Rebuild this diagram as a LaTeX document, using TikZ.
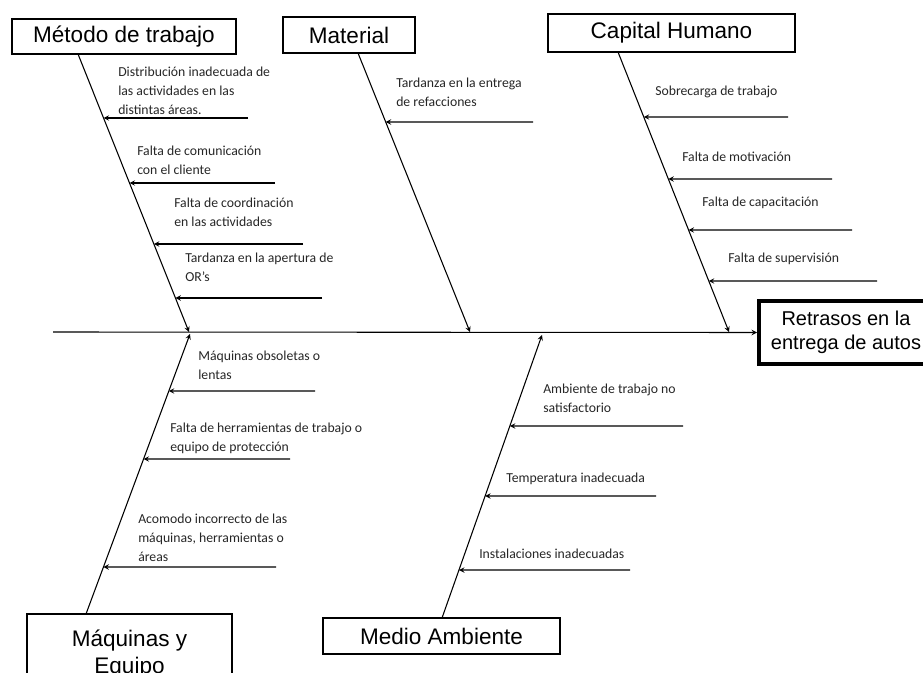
\documentclass[tikz,border=0pt]{standalone}
\usepackage{fontspec}
\setmainfont{Liberation Sans}
\newfontfamily\causefont{Carlito}
\usetikzlibrary{arrows,positioning,calc}

\begin{document}
\begin{tikzpicture}[x=0.75pt, y=-0.75pt,
    cat/.style={rectangle, draw, line width=0.8pt, text centered, align=center, inner sep=0pt, font=\fontsize{16.9}{20}\selectfont},
    cause/.style={anchor=west, inner sep=0pt, align=left, text=black!85, font=\causefont\fontsize{10.3}{14.4}\selectfont},
    arrow/.style={->, line width=0.8pt, >=stealth}]

    \clip (0,0) rectangle (923,673);

    % Categories
    \node[cat, minimum width=168pt, minimum height=26.25pt] (metodo) at (124,36.5) {Método de trabajo};
    \node[cat, minimum width=99pt, minimum height=27pt] (material) at (349,35) {Material};
    \node[cat, minimum width=185.25pt, minimum height=28.5pt] (capital) at (671.5,33) {Capital Humano};
    \node[cat, minimum width=153.75pt, minimum height=60pt] (maquinas) at (129.5,654) {Máquinas y\\Equipo};
    \node[cat, minimum width=177.75pt, minimum height=27pt] (medio) at (441.5,636) {Medio Ambiente};

    % Effect
    \node[cat, line width=3pt, font=\fontsize{15}{18}\selectfont, minimum width=130.5pt, minimum height=47.25pt] (efecto) at (846,332.5) {Retrasos en la\\entrega de autos};

    % Spine
    \coordinate (cola) at (53,332);
    \draw[arrow] (cola) -- (efecto.west);

    % Bones
    \coordinate (mA) at (78,54);
    \coordinate (mB) at (189,332);
    \coordinate (tA) at (358,53);
    \coordinate (tB) at (470,332);
    \coordinate (cA) at (618,52);
    \coordinate (cB) at (729,332);
    \coordinate (qA) at (86,614);
    \coordinate (qB) at (190,334);
    \coordinate (aA) at (442,618);
    \coordinate (aB) at (542,335);
    \draw[arrow] (mA) -- (mB);
    \draw[arrow] (tA) -- (tB);
    \draw[arrow] (cA) -- (cB);
    \draw[arrow] (qA) -- (qB);
    \draw[arrow] (aA) -- (aB);

    % Método de trabajo
    \node[cause] (m1) at (118,91) {Distribución inadecuada de\\las actividades en las\\distintas áreas.};
    \node[cause] (m2) at (137,160) {Falta de comunicación\\con el cliente};
    \node[cause] (m3) at (174,212) {Falta de coordinación\\en las actividades};
    \node[cause] (m4) at (185,267) {Tardanza en la apertura de\\OR’s};
    \coordinate (m1t) at (248,118);
    \coordinate (m2t) at (275,183);
    \coordinate (m3t) at (303,244);
    \coordinate (m4t) at (322,298);
    \draw[arrow] (m1t) -- (intersection of mA--mB and 0,118--900,118);
    \draw[arrow] (m2t) -- (intersection of mA--mB and 0,183--900,183);
    \draw[arrow] (m3t) -- (intersection of mA--mB and 0,244--900,244);
    \draw[arrow] (m4t) -- (intersection of mA--mB and 0,298--900,298);

    % Material
    \node[cause] (t1) at (396,92.5) {Tardanza en la entrega\\de refacciones};
    \coordinate (t1t) at (533,122);
    \draw[arrow] (t1t) -- (intersection of tA--tB and 0,122--900,122);

    % Capital Humano
    \node[cause] (c1) at (655,92) {Sobrecarga de trabajo};
    \node[cause] (c2) at (682,157) {Falta de motivación};
    \node[cause] (c3) at (702,203) {Falta de capacitación};
    \node[cause] (c4) at (728,259) {Falta de supervisión};
    \coordinate (c1t) at (788,117);
    \coordinate (c2t) at (832,179);
    \coordinate (c3t) at (852,230);
    \coordinate (c4t) at (877,281);
    \draw[arrow] (c1t) -- (intersection of cA--cB and 0,117--900,117);
    \draw[arrow] (c2t) -- (intersection of cA--cB and 0,179--900,179);
    \draw[arrow] (c3t) -- (intersection of cA--cB and 0,230--900,230);
    \draw[arrow] (c4t) -- (intersection of cA--cB and 0,281--900,281);

    % Máquinas y Equipo
    \node[cause] (q1) at (198,365) {Máquinas obsoletas o\\lentas};
    \node[cause] (q2) at (170,438) {Falta de herramientas de trabajo o\\equipo de protección};
    \node[cause] (q3) at (138,538) {Acomodo incorrecto de las\\máquinas, herramientas o\\áreas};
    \coordinate (q1t) at (315,391);
    \coordinate (q2t) at (290,459);
    \coordinate (q3t) at (276,567);
    \draw[arrow] (q1t) -- (intersection of qA--qB and 0,391--900,391);
    \draw[arrow] (q2t) -- (intersection of qA--qB and 0,459--900,459);
    \draw[arrow] (q3t) -- (intersection of qA--qB and 0,567--900,567);

    % Medio Ambiente
    \node[cause] (a1) at (543,398) {Ambiente de trabajo no\\satisfactorio};
    \node[cause] (a2) at (506,479) {Temperatura inadecuada};
    \node[cause] (a3) at (479,554) {Instalaciones inadecuadas};
    \coordinate (a1t) at (683,426);
    \coordinate (a2t) at (656,496);
    \coordinate (a3t) at (630,570);
    \draw[arrow] (a1t) -- (intersection of aA--aB and 0,426--900,426);
    \draw[arrow] (a2t) -- (intersection of aA--aB and 0,496--900,496);
    \draw[arrow] (a3t) -- (intersection of aA--aB and 0,570--900,570);
\end{tikzpicture}
\end{document}
